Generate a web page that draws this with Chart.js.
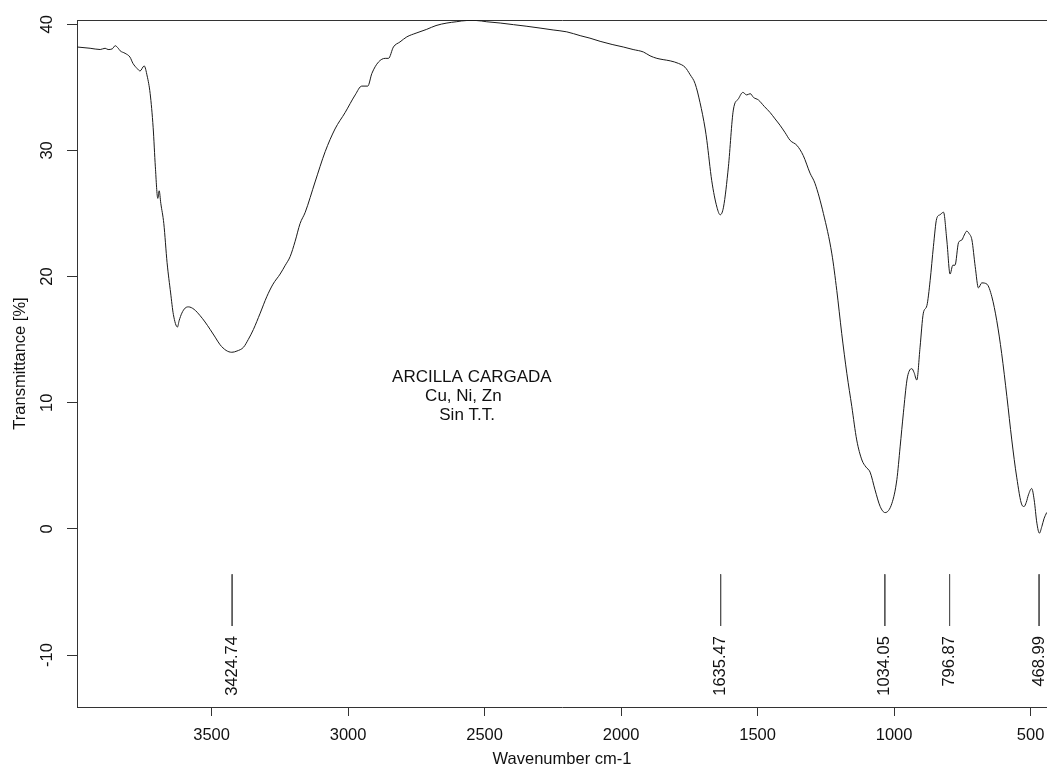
<!DOCTYPE html>
<html>
<head>
<meta charset="utf-8">
<script src="https://cdn.jsdelivr.net/npm/chart.js@4"></script>
<style>
	html, body { margin: 0; padding: 0; background: #fff; }
	#wrap { width: 1047px; height: 769px; position: relative; overflow: hidden; }
</style>
</head>
<body>
<div id="wrap"><canvas id="chartSpectrum"></canvas></div>
<script>
// spectrum (wavenumber cm-1 / transmittance %)
var wavenumbers = [
	3993, 3945, 3908, 3890, 3879, 3864, 3853, 3842, 3835, 3817, 3799, 3788, 3773, 3762, 3747, 3736,
	3725, 3714, 3706, 3697, 3692, 3686, 3675, 3663, 3650, 3640, 3625, 3619, 3609, 3597, 3585, 3564,
	3542, 3524, 3505, 3487, 3469, 3447, 3426, 3407, 3383, 3366, 3347, 3322, 3298, 3275, 3249, 3230,
	3212, 3194, 3176, 3157, 3121, 3084, 3048, 3011, 2974, 2950, 2928, 2913, 2889, 2864, 2852, 2834,
	2810, 2785, 2751, 2712, 2678, 2638, 2604, 2565, 2531, 2492, 2443, 2394, 2348, 2297, 2249, 2199,
	2150, 2114, 2077, 2033, 1992, 1956, 1918, 1894, 1869, 1846, 1820, 1790, 1766, 1747, 1729, 1711,
	1692, 1686, 1668, 1649, 1637, 1625, 1607, 1589, 1570, 1554, 1540, 1527, 1515, 1497, 1476, 1454,
	1436, 1418, 1399, 1381, 1356, 1333, 1308, 1290, 1259, 1228, 1210, 1192, 1173, 1155, 1137, 1118,
	1103, 1088, 1070, 1051, 1033, 1008, 990, 978, 966, 953, 945, 935, 927, 917, 905, 893,
	880, 868, 856, 844, 832, 819, 807, 795, 785, 777, 764, 752, 743, 734, 725, 715,
	703, 691, 679, 660, 642, 624, 606, 587, 569, 551, 532, 524, 516, 508, 496, 487,
	477, 468, 459, 451, 441
];
var transmittance = [
	38.2, 38.1, 38.0, 38.1, 38.0, 38.05, 38.3, 38.1, 37.9, 37.7, 37.4, 36.9, 36.5, 36.3, 36.7, 35.9,
	34.5, 31.8, 28.7, 26.2, 26.8, 25.8, 24.2, 21.1, 18.7, 17.0, 16.0, 16.5, 17.1, 17.5, 17.6, 17.4,
	16.9, 16.4, 15.8, 15.2, 14.6, 14.15, 14.0, 14.1, 14.4, 15.0, 15.8, 17.1, 18.4, 19.4, 20.2, 20.9,
	21.6, 22.8, 24.2, 25.1, 27.5, 29.9, 31.7, 33.0, 34.4, 35.1, 35.1, 36.1, 37.0, 37.3, 37.3, 38.2,
	38.6, 39.0, 39.3, 39.6, 39.9, 40.1, 40.2, 40.3, 40.3, 40.2, 40.1, 39.97, 39.85, 39.7, 39.55, 39.4,
	39.1, 38.9, 38.65, 38.4, 38.2, 38.0, 37.8, 37.5, 37.3, 37.2, 37.1, 36.9, 36.6, 36.0, 35.3, 33.8,
	31.7, 30.8, 27.6, 25.5, 24.9, 25.5, 28.7, 33.2, 34.1, 34.6, 34.4, 34.5, 34.2, 34.0, 33.5, 33.0,
	32.5, 32.0, 31.4, 30.8, 30.4, 29.6, 28.2, 27.4, 25.0, 21.8, 18.9, 15.5, 12.3, 9.7, 7.05, 5.46,
	4.9, 4.5, 3.1, 1.77, 1.29, 2.03, 3.9, 6.5, 9.2, 11.8, 12.5, 12.7, 12.4, 11.8, 14.4, 17.1,
	17.7, 19.7, 22.4, 24.6, 24.9, 25.1, 22.9, 20.2, 20.9, 20.9, 22.7, 22.9, 23.3, 23.6, 23.4, 22.9,
	20.8, 19.1, 19.5, 19.4, 18.4, 16.5, 13.9, 10.5, 7.05, 4.1, 1.9, 1.77, 2.1, 2.7, 3.2, 2.3,
	0.45, -0.34, 0.18, 0.8, 1.3
];

var xTicks = [3500, 3000, 2500, 2000, 1500, 1000, 500];
var yTicks = [40, 30, 20, 10, 0, -10];

var peakPositions = [3424.74, 1635.47, 1034.05, 796.87, 468.99];
var peakLabels = ['3424.74', '1635.47', '1034.05', '796.87', '468.99'];

var sampleLines = ['ARCILLA CARGADA', '       Cu, Ni, Zn', '          Sin T.T.'];

(function () {
	var FONT = '"Liberation Sans", Arial, Helvetica, sans-serif';
	var INK = '#111';
	var AXIS = '#333';

	Chart.defaults.font.family = FONT;
	Chart.defaults.font.size = 16.5;
	Chart.defaults.color = INK;

	// x/y range of the plot box
	var xMin = 440, xMax = 3993;
	var yMin = -14.12, yMax = 40.34;
	// peak marker stroke and label anchor, in y units
	var markTop = -3.6, markBottom = -7.7, labelTop = -8.5;
	// where the sample text starts
	var noteX = 2839, noteY = 11.64, noteLine = 19;

	var spectrum = wavenumbers.map(function (w, i) { return { x: w, y: transmittance[i] }; });

	var markers = [];
	peakPositions.forEach(function (p) {
		markers.push({ x: p, y: markTop }, { x: p, y: markBottom }, { x: p, y: null });
	});

	var textPlugin = {
		id: 'spectrumText',
		afterDatasetsDraw: function (chart) {
			var ctx = chart.ctx;
			var xs = chart.scales.x;
			var ys = chart.scales.y;
			ctx.save();
			ctx.fillStyle = INK;
			ctx.font = '16.5px ' + FONT;
			ctx.textAlign = 'right';
			ctx.textBaseline = 'middle';
			peakPositions.forEach(function (p, i) {
				ctx.save();
				ctx.translate(xs.getPixelForValue(p), ys.getPixelForValue(labelTop));
				ctx.rotate(-Math.PI / 2);
				ctx.fillText(peakLabels[i], 0, 0);
				ctx.restore();
			});

			ctx.font = '17px ' + FONT;
			ctx.textAlign = 'left';
			ctx.textBaseline = 'alphabetic';
			var nx = xs.getPixelForValue(noteX);
			var ny = ys.getPixelForValue(noteY);
			sampleLines.forEach(function (line, i) {
				ctx.fillText(line, nx, ny + i * noteLine);
			});
			ctx.restore();
		}
	};

	new Chart(document.getElementById('chartSpectrum'), {
		type: 'scatter',
		data: {
			datasets: [
				{
					data: spectrum,
					showLine: true,
					borderColor: '#1a1a1a',
					borderWidth: 1,
					pointRadius: 0,
					tension: 0.3,
					cubicInterpolationMode: 'monotone'
				},
				{
					data: markers,
					showLine: true,
					spanGaps: false,
					borderColor: '#555',
					borderWidth: 1,
					pointRadius: 0
				}
			]
		},
		options: {
			responsive: true,
			maintainAspectRatio: false,
			animation: false,
			layout: { padding: { top: 20, right: 0, bottom: 0, left: 0 } },
			plugins: {
				legend: { display: false },
				tooltip: { enabled: false }
			},
			scales: {
				x: {
					type: 'linear',
					position: 'bottom',
					reverse: true,
					min: xMin,
					max: xMax,
					afterBuildTicks: function (scale) {
						scale.ticks = xTicks.map(function (v) { return { value: v }; });
					},
					afterFit: function (scale) {
						scale.height = 62;
						scale.paddingLeft = 0;
						scale.paddingRight = 0;
					},
					grid: { display: true, drawOnChartArea: false, drawTicks: true, tickLength: 9, color: AXIS },
					border: { display: true, color: AXIS, width: 1 },
					ticks: {
						padding: 10,
						maxRotation: 0,
						autoSkip: false,
						color: INK,
						callback: function (v) { return String(v); }
					},
					title: {
						display: true,
						text: 'Wavenumber cm-1',
						color: INK,
						padding: { top: 0, bottom: 0 }
					}
				},
				x2: {
					type: 'linear',
					position: 'top',
					reverse: true,
					min: xMin,
					max: xMax,
					afterFit: function (scale) { scale.height = 0; },
					grid: { display: false },
					border: { display: true, color: AXIS, width: 1 },
					ticks: { display: false }
				},
				y: {
					type: 'linear',
					position: 'left',
					min: yMin,
					max: yMax,
					afterBuildTicks: function (scale) {
						scale.ticks = yTicks.map(function (v) { return { value: v }; });
					},
					afterFit: function (scale) {
						scale.width = 77;
						scale.paddingTop = 0;
						scale.paddingBottom = 0;
					},
					grid: { display: true, drawOnChartArea: false, drawTicks: true, tickLength: 10, color: AXIS },
					border: { display: true, color: AXIS, width: 1 },
					ticks: {
						minRotation: 90,
						maxRotation: 90,
						crossAlign: 'center',
						padding: 8,
						autoSkip: false,
						color: INK,
						callback: function (v) { return String(v); }
					},
					title: {
						display: true,
						text: 'Transmittance [%]',
						color: INK,
						padding: { top: 11, bottom: 0 }
					}
				}
			}
		},
		plugins: [textPlugin]
	});
})();
</script>
</body>
</html>
